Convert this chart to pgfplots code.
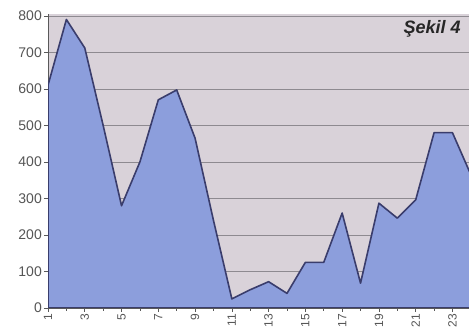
\documentclass[border=0pt]{standalone}
\usepackage{fontspec}
\setmainfont{Liberation Sans}
\usepackage{pgfplots}
\pgfplotsset{compat=1.18}
\definecolor{plotbg}{HTML}{D9D2D9}
\definecolor{areafill}{HTML}{8C9EDC}
\definecolor{arealine}{HTML}{3A3D6C}
\definecolor{gridc}{HTML}{8E8A90}
\definecolor{ticktext}{HTML}{555555}
\begin{document}
\begin{tikzpicture}[x=1pt,y=1pt]
\path[use as bounding box] (-48,-28) rectangle (421,308);
\begin{axis}[
  at={(0,0)}, anchor=south west,
  scale only axis,
  width=421pt, height=294pt,
  xmin=1, xmax=23.9,
  ymin=0, ymax=805,
  axis background/.style={fill=plotbg},
  axis x line*=bottom,
  axis y line*=left,
  axis line style={draw=gray!70!black, line width=0.8pt},
  xtick={1,3,...,23},
  minor xtick={1,2,...,24},
  ytick={0,100,...,800},
  ymajorgrids,
  major grid style={draw=gridc, line width=0.6pt},
  tick style={draw=gray!70!black, line width=0.6pt},
  tick align=outside,
  major tick length=4pt,
  minor tick length=3pt,
  x tick label style={rotate=90, anchor=east, font=\fontsize{12}{14}\selectfont, text=ticktext, inner sep=2pt},
  y tick label style={font=\fontsize{14}{16}\selectfont, text=ticktext, inner sep=2pt},
  /pgf/number format/assume math mode=true,
  clip=true,
]
\addplot[fill=areafill, draw=arealine, line width=1.6pt, line join=round] coordinates {
  (1,610) (2,790) (3,712) (4,500) (5,280) (6,400) (7,570) (8,597)
  (9,465) (10,240) (11,25) (12,50) (13,72) (14,40) (15,125) (16,125)
  (17,260) (18,68) (19,287) (20,246) (21,296) (22,480) (23,480) (24,365)
} \closedcycle;
\node[font=\fontsize{18}{20}\selectfont\bfseries\itshape, text=black!85, anchor=center] at (axis cs:21.9,765) {Şekil 4};
\end{axis}
\end{tikzpicture}
\end{document}
